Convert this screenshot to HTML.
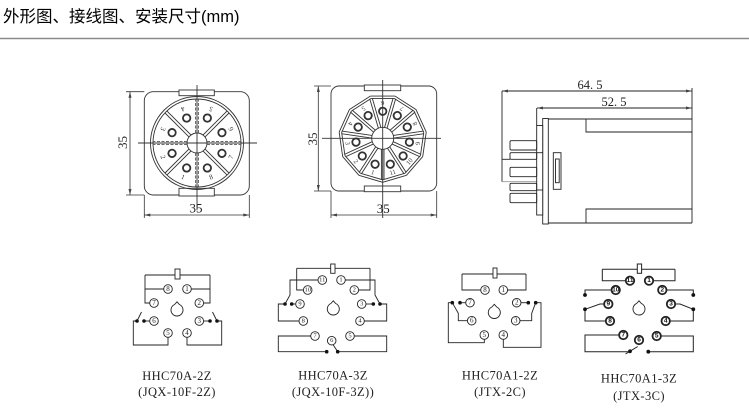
<!DOCTYPE html>
<html><head><meta charset="utf-8"><style>
html,body{margin:0;padding:0;background:#fff;}
svg{display:block;}
</style></head><body>
<svg width="749" height="416" viewBox="0 0 749 416" xmlns="http://www.w3.org/2000/svg" font-family="'Liberation Serif', serif">
<defs>
<marker id="ar" viewBox="0 0 8 4" refX="8" refY="2" markerUnits="userSpaceOnUse" markerWidth="6.5" markerHeight="3" orient="auto-start-reverse"><path d="M0,0L8,2L0,4z" fill="#444"/></marker>
<path id="kh" d="M-2.4,-5.5 L0,-8.2 L2.4,-5.5 A6 6 0 1 1 -2.4,-5.5Z" fill="none" stroke="#222" stroke-width="0.9"/>
</defs>
<rect width="749" height="416" fill="#fff"/>

<!-- header -->
<text x="3" y="22" font-family="'Liberation Sans','Noto Sans CJK SC',sans-serif" font-size="16.5" fill="#000">外形图、接线图、安装尺寸(mm)</text>
<line x1="0" y1="38.5" x2="749" y2="38.5" stroke="#8a8a8a" stroke-width="1.5"/>

<!-- ============ Drawing 1 (8-pin socket) ============ -->
<g stroke="#333" stroke-width="0.9" fill="none">
  <rect x="144.3" y="91.7" width="105" height="103.3" rx="9"/>
  <rect x="179" y="90" width="35.3" height="5.7" fill="#fff"/>
  <rect x="179" y="188.3" width="35.3" height="7.7" fill="#fff"/>
  <circle cx="197" cy="143" r="46.5"/>
  <circle cx="197" cy="143" r="44"/>
  <circle cx="197" cy="143" r="10"/>
  <g transform="translate(197,143)">
    <g transform="rotate(45)"><line x1="-1.4" y1="-10" x2="-1.4" y2="-44"/><line x1="1.4" y1="-10" x2="1.4" y2="-44"/></g>
    <g transform="rotate(135)"><line x1="-1.4" y1="-10" x2="-1.4" y2="-44"/><line x1="1.4" y1="-10" x2="1.4" y2="-44"/></g>
    <g transform="rotate(225)"><line x1="-1.4" y1="-10" x2="-1.4" y2="-44"/><line x1="1.4" y1="-10" x2="1.4" y2="-44"/></g>
    <g transform="rotate(315)"><line x1="-1.4" y1="-10" x2="-1.4" y2="-44"/><line x1="1.4" y1="-10" x2="1.4" y2="-44"/></g>
    <g stroke-dasharray="3 1.5" stroke="#555">
      <g transform="rotate(0)"><line x1="-1.4" y1="-10" x2="-1.4" y2="-44"/><line x1="1.4" y1="-10" x2="1.4" y2="-44"/></g>
      <g transform="rotate(90)"><line x1="-1.4" y1="-10" x2="-1.4" y2="-44"/><line x1="1.4" y1="-10" x2="1.4" y2="-44"/></g>
      <g transform="rotate(180)"><line x1="-1.4" y1="-10" x2="-1.4" y2="-44"/><line x1="1.4" y1="-10" x2="1.4" y2="-44"/></g>
      <g transform="rotate(270)"><line x1="-1.4" y1="-10" x2="-1.4" y2="-44"/><line x1="1.4" y1="-10" x2="1.4" y2="-44"/></g>
    </g>
    <g stroke-width="1.8">
      <circle cx="0" cy="-27" r="3.7" transform="rotate(22.5)"/>
      <circle cx="0" cy="-27" r="3.7" transform="rotate(67.5)"/>
      <circle cx="0" cy="-27" r="3.7" transform="rotate(112.5)"/>
      <circle cx="0" cy="-27" r="3.7" transform="rotate(157.5)"/>
      <circle cx="0" cy="-27" r="3.7" transform="rotate(202.5)"/>
      <circle cx="0" cy="-27" r="3.7" transform="rotate(247.5)"/>
      <circle cx="0" cy="-27" r="3.7" transform="rotate(292.5)"/>
      <circle cx="0" cy="-27" r="3.7" transform="rotate(337.5)"/>
    </g>
    <g fill="#333" stroke="none" font-size="7" text-anchor="middle" dominant-baseline="central">
      <g transform="rotate(22.5)"><text x="0" y="-37" transform="rotate(180 0 -37)">5</text></g>
      <g transform="rotate(67.5)"><text x="0" y="-37" transform="rotate(180 0 -37)">6</text></g>
      <g transform="rotate(112.5)"><text x="0" y="-37" transform="rotate(180 0 -37)">7</text></g>
      <g transform="rotate(157.5)"><text x="0" y="-37" transform="rotate(180 0 -37)">8</text></g>
      <g transform="rotate(202.5)"><text x="0" y="-37" transform="rotate(180 0 -37)">1</text></g>
      <g transform="rotate(247.5)"><text x="0" y="-37" transform="rotate(180 0 -37)">2</text></g>
      <g transform="rotate(292.5)"><text x="0" y="-37" transform="rotate(180 0 -37)">3</text></g>
      <g transform="rotate(337.5)"><text x="0" y="-37" transform="rotate(180 0 -37)">4</text></g>
    </g>
  </g>
  <line x1="197" y1="85" x2="197" y2="210"/>
  <line x1="138" y1="143" x2="257" y2="143"/>
  <!-- dims -->
  <line x1="126" y1="91.7" x2="144.3" y2="91.7" stroke-width="0.8"/>
  <line x1="126" y1="195" x2="144.3" y2="195" stroke-width="0.8"/>
  <line x1="130" y1="91.7" x2="130" y2="195" stroke-width="0.8" marker-start="url(#ar)" marker-end="url(#ar)"/>
  <line x1="144.3" y1="195" x2="144.3" y2="218" stroke-width="0.8"/>
  <line x1="249.3" y1="195" x2="249.3" y2="218" stroke-width="0.8"/>
  <line x1="144.3" y1="215" x2="249.3" y2="215" stroke-width="0.8" marker-start="url(#ar)" marker-end="url(#ar)"/>
</g>
<text x="0" y="0" transform="translate(127,142.5) rotate(-90)" font-size="13" text-anchor="middle" fill="#222">35</text>
<text x="196" y="212.5" font-size="13" text-anchor="middle" fill="#222">35</text>

<!-- ============ Drawing 2 (11-pin socket) ============ -->
<g stroke="#333" stroke-width="0.9" fill="none">
  <rect x="331" y="86" width="105.7" height="105" rx="8"/>
  <rect x="364.3" y="85" width="36.4" height="5.7" fill="#fff"/>
  <rect x="364.3" y="186" width="36.4" height="5.7" fill="#fff"/>
  <circle cx="382.7" cy="138.3" r="11"/>
  <g transform="translate(382.7,138.3)">
    <g transform="rotate(16.36)"><line x1="0" y1="-44" x2="23.79" y2="-37.01"/><line x1="0" y1="-41.5" x2="22.44" y2="-34.91"/><line x1="-1.3" y1="-11" x2="-1.3" y2="-41.5"/><line x1="1.3" y1="-11" x2="1.3" y2="-41.5"/></g>
    <g transform="rotate(49.09)"><line x1="0" y1="-44" x2="23.79" y2="-37.01"/><line x1="0" y1="-41.5" x2="22.44" y2="-34.91"/><line x1="-1.3" y1="-11" x2="-1.3" y2="-41.5"/><line x1="1.3" y1="-11" x2="1.3" y2="-41.5"/></g>
    <g transform="rotate(81.82)"><line x1="0" y1="-44" x2="23.79" y2="-37.01"/><line x1="0" y1="-41.5" x2="22.44" y2="-34.91"/><line x1="-1.3" y1="-11" x2="-1.3" y2="-41.5"/><line x1="1.3" y1="-11" x2="1.3" y2="-41.5"/></g>
    <g transform="rotate(114.55)"><line x1="0" y1="-44" x2="23.79" y2="-37.01"/><line x1="0" y1="-41.5" x2="22.44" y2="-34.91"/><line x1="-1.3" y1="-11" x2="-1.3" y2="-41.5"/><line x1="1.3" y1="-11" x2="1.3" y2="-41.5"/></g>
    <g transform="rotate(147.27)"><line x1="0" y1="-44" x2="23.79" y2="-37.01"/><line x1="0" y1="-41.5" x2="22.44" y2="-34.91"/><line x1="-1.3" y1="-11" x2="-1.3" y2="-41.5"/><line x1="1.3" y1="-11" x2="1.3" y2="-41.5"/></g>
    <g transform="rotate(180)"><line x1="0" y1="-44" x2="23.79" y2="-37.01"/><line x1="0" y1="-41.5" x2="22.44" y2="-34.91"/><line x1="-1.3" y1="-11" x2="-1.3" y2="-41.5"/><line x1="1.3" y1="-11" x2="1.3" y2="-41.5"/></g>
    <g transform="rotate(212.73)"><line x1="0" y1="-44" x2="23.79" y2="-37.01"/><line x1="0" y1="-41.5" x2="22.44" y2="-34.91"/><line x1="-1.3" y1="-11" x2="-1.3" y2="-41.5"/><line x1="1.3" y1="-11" x2="1.3" y2="-41.5"/></g>
    <g transform="rotate(245.45)"><line x1="0" y1="-44" x2="23.79" y2="-37.01"/><line x1="0" y1="-41.5" x2="22.44" y2="-34.91"/><line x1="-1.3" y1="-11" x2="-1.3" y2="-41.5"/><line x1="1.3" y1="-11" x2="1.3" y2="-41.5"/></g>
    <g transform="rotate(278.18)"><line x1="0" y1="-44" x2="23.79" y2="-37.01"/><line x1="0" y1="-41.5" x2="22.44" y2="-34.91"/><line x1="-1.3" y1="-11" x2="-1.3" y2="-41.5"/><line x1="1.3" y1="-11" x2="1.3" y2="-41.5"/></g>
    <g transform="rotate(310.91)"><line x1="0" y1="-44" x2="23.79" y2="-37.01"/><line x1="0" y1="-41.5" x2="22.44" y2="-34.91"/><line x1="-1.3" y1="-11" x2="-1.3" y2="-41.5"/><line x1="1.3" y1="-11" x2="1.3" y2="-41.5"/></g>
    <g transform="rotate(343.64)"><line x1="0" y1="-44" x2="23.79" y2="-37.01"/><line x1="0" y1="-41.5" x2="22.44" y2="-34.91"/><line x1="-1.3" y1="-11" x2="-1.3" y2="-41.5"/><line x1="1.3" y1="-11" x2="1.3" y2="-41.5"/></g>
    <g stroke-width="1.8">
      <circle cx="0" cy="-27" r="3.7" transform="rotate(0)"/>
      <circle cx="0" cy="-27" r="3.7" transform="rotate(32.73)"/>
      <circle cx="0" cy="-27" r="3.7" transform="rotate(65.45)"/>
      <circle cx="0" cy="-27" r="3.7" transform="rotate(98.18)"/>
      <circle cx="0" cy="-27" r="3.7" transform="rotate(130.91)"/>
      <circle cx="0" cy="-27" r="3.7" transform="rotate(163.64)"/>
      <circle cx="0" cy="-27" r="3.7" transform="rotate(196.36)"/>
      <circle cx="0" cy="-27" r="3.7" transform="rotate(229.09)"/>
      <circle cx="0" cy="-27" r="3.7" transform="rotate(261.82)"/>
      <circle cx="0" cy="-27" r="3.7" transform="rotate(294.55)"/>
      <circle cx="0" cy="-27" r="3.7" transform="rotate(327.27)"/>
    </g>
    <g fill="#333" stroke="none" font-size="6.5" text-anchor="middle" dominant-baseline="central">
      <g transform="rotate(0)"><text x="0" y="-36" transform="rotate(180 0 -36)">6</text></g>
      <g transform="rotate(32.73)"><text x="0" y="-36" transform="rotate(180 0 -36)">7</text></g>
      <g transform="rotate(65.45)"><text x="0" y="-36" transform="rotate(180 0 -36)">8</text></g>
      <g transform="rotate(98.18)"><text x="0" y="-36" transform="rotate(180 0 -36)">9</text></g>
      <g transform="rotate(130.91)"><text x="0" y="-36" transform="rotate(180 0 -36)">10</text></g>
      <g transform="rotate(163.64)"><text x="0" y="-36" transform="rotate(180 0 -36)">11</text></g>
      <g transform="rotate(196.36)"><text x="0" y="-36" transform="rotate(180 0 -36)">1</text></g>
      <g transform="rotate(229.09)"><text x="0" y="-36" transform="rotate(180 0 -36)">2</text></g>
      <g transform="rotate(261.82)"><text x="0" y="-36" transform="rotate(180 0 -36)">3</text></g>
      <g transform="rotate(294.55)"><text x="0" y="-36" transform="rotate(180 0 -36)">4</text></g>
      <g transform="rotate(327.27)"><text x="0" y="-36" transform="rotate(180 0 -36)">5</text></g>
    </g>
  </g>
  <line x1="382.7" y1="80" x2="382.7" y2="218"/>
  <line x1="322" y1="138.3" x2="441" y2="138.3"/>
  <!-- dims -->
  <line x1="314" y1="86" x2="331" y2="86" stroke-width="0.8"/>
  <line x1="314" y1="191" x2="331" y2="191" stroke-width="0.8"/>
  <line x1="318.3" y1="86" x2="318.3" y2="191" stroke-width="0.8" marker-start="url(#ar)" marker-end="url(#ar)"/>
  <line x1="331" y1="191" x2="331" y2="218" stroke-width="0.8"/>
  <line x1="436.7" y1="191" x2="436.7" y2="218" stroke-width="0.8"/>
  <line x1="331" y1="215" x2="436.7" y2="215" stroke-width="0.8" marker-start="url(#ar)" marker-end="url(#ar)"/>
</g>
<text x="0" y="0" transform="translate(317,139) rotate(-90)" font-size="13" text-anchor="middle" fill="#222">35</text>
<text x="383.3" y="213" font-size="13" text-anchor="middle" fill="#222">35</text>

<!-- ============ Side view ============ -->
<g stroke="#222" stroke-width="0.9" fill="none">
  <line x1="502" y1="91" x2="692" y2="91" marker-start="url(#ar)" marker-end="url(#ar)"/>
  <line x1="537" y1="108" x2="692" y2="108" marker-start="url(#ar)" marker-end="url(#ar)"/>
  <line x1="692" y1="88" x2="692" y2="223"/>
  <line x1="502" y1="91" x2="502" y2="181.7"/>
  <line x1="502" y1="159.3" x2="510" y2="159.3"/>
  <line x1="502" y1="181.7" x2="536.7" y2="181.7" stroke="#999"/>
  <line x1="536.7" y1="108" x2="536.7" y2="125.5"/>
  <!-- body -->
  <line x1="548.3" y1="119" x2="692" y2="119"/>
  <line x1="548.3" y1="223" x2="692" y2="223"/>
  <path d="M692,132 H586 V119"/>
  <path d="M692,209 H586 V223"/>
  <rect x="542.7" y="118.5" width="5.6" height="105.5" fill="#fff"/>
  <rect x="536.7" y="125.5" width="6" height="89.5" fill="#fff"/>
  <line x1="536.7" y1="152.7" x2="542.7" y2="152.7"/>
  <line x1="536.7" y1="190" x2="542.7" y2="190"/>
  <rect x="553.3" y="152.7" width="7.7" height="36.6"/>
  <rect x="555.5" y="159" width="3.7" height="23.7"/>
  <!-- pins -->
  <rect x="510" y="140.7" width="26.7" height="9.3" rx="1.2"/>
  <rect x="510" y="152.7" width="26.7" height="6.6" rx="1.2"/>
  <rect x="510" y="167.3" width="26.7" height="9.4" rx="1.2"/>
  <rect x="510" y="183.3" width="26.7" height="7.4" rx="1.2"/>
  <rect x="510" y="193.3" width="26.7" height="9.4" rx="1.2"/>
</g>
<text x="590" y="89" font-size="12.5" text-anchor="middle" fill="#222">64. 5</text>
<text x="614" y="106" font-size="12.5" text-anchor="middle" fill="#222">52. 5</text>

<!-- ============ Wiring diagram 1 ============ -->
<g stroke="#222" stroke-width="0.9" fill="none">
  <line x1="145" y1="275" x2="210" y2="275"/>
  <rect x="175" y="269" width="5" height="10" fill="#fff"/>
  <path d="M145,275 V303 H149.7"/>
  <path d="M145,289 H163.7"/>
  <path d="M210,275 V303 H203.6"/>
  <path d="M210,289 H191.3"/>
  <path d="M144,321 H149.7"/>
  <path d="M137,321 L141.5,312"/>
  <path d="M137,321 H133.3 V345 H168 V337.3"/>
  <path d="M203.3,321 H210"/>
  <path d="M217,321 L212.5,312"/>
  <path d="M217,321 H221.7 V345 H187 V337.3"/>
  <g fill="#fff">
    <circle cx="168" cy="289" r="4.3"/><circle cx="187" cy="289" r="4.3"/>
    <circle cx="154" cy="303" r="4.3"/><circle cx="199.3" cy="303" r="4.3"/>
    <circle cx="154" cy="321" r="4.3"/><circle cx="199.3" cy="321" r="4.3"/>
    <circle cx="168" cy="333" r="4.3"/><circle cx="187" cy="333" r="4.3"/>
  </g>
  <use href="#kh" x="177" y="310"/>
</g>
<g fill="#111">
  <circle cx="137" cy="321" r="1.8"/><circle cx="144" cy="321" r="1.8"/>
  <circle cx="210" cy="321" r="1.8"/><circle cx="217" cy="321" r="1.8"/>
</g>
<g font-size="7" text-anchor="middle" dominant-baseline="central" fill="#222">
  <text x="168" y="289">8</text><text x="187" y="289">1</text>
  <text x="154" y="303">7</text><text x="199.3" y="303">2</text>
  <text x="154" y="321">6</text><text x="199.3" y="321">3</text>
  <text x="168" y="333">5</text><text x="187" y="333">4</text>
</g>

<!-- ============ Wiring diagram 2 ============ -->
<g stroke="#222" stroke-width="0.9" fill="none">
  <line x1="296.7" y1="268.3" x2="370" y2="268.3"/>
  <rect x="330.7" y="264" width="4.3" height="9.3" fill="#fff"/>
  <path d="M296.7,268.3 V290 H303.4"/>
  <path d="M370,268.3 V290 H358.6"/>
  <path d="M318,280 H290 V295 L285,304"/>
  <path d="M291.7,304 H295.7"/>
  <path d="M285,304 H278.3 V321 H299"/>
  <path d="M345.3,280 H375 V295 L380,304"/>
  <path d="M366,304 H373.3"/>
  <path d="M380,304 H386.7 V321 H364.3"/>
  <path d="M310.7,336 H278.3 V351.7 H326.7"/>
  <path d="M354.3,336 H386.7 V351.7 H337.7"/>
  <path d="M333.3,345 L337.7,351.7"/>
  <g fill="#fff">
    <circle cx="322.3" cy="280" r="4.3"/><circle cx="341" cy="280" r="4.3"/>
    <circle cx="307.7" cy="290" r="4.3"/><circle cx="354.3" cy="290" r="4.3"/>
    <circle cx="300" cy="304" r="4.3"/><circle cx="361.7" cy="304" r="4.3"/>
    <circle cx="303.3" cy="321" r="4.3"/><circle cx="360" cy="321" r="4.3"/>
    <circle cx="315" cy="336" r="4.3"/><circle cx="331.7" cy="340.7" r="4.3"/><circle cx="350" cy="336" r="4.3"/>
  </g>
  <use href="#kh" x="333.3" y="309"/>
</g>
<g fill="#111">
  <circle cx="285" cy="304" r="1.8"/><circle cx="291.7" cy="304" r="1.8"/>
  <circle cx="373.3" cy="304" r="1.8"/><circle cx="380" cy="304" r="1.8"/>
  <circle cx="326.7" cy="351.7" r="1.8"/><circle cx="337.7" cy="351.7" r="1.8"/>
</g>
<g font-size="6.5" text-anchor="middle" dominant-baseline="central" fill="#222">
  <text x="322.3" y="280">11</text><text x="341" y="280">1</text>
  <text x="307.7" y="290">10</text><text x="354.3" y="290">2</text>
  <text x="300" y="304">9</text><text x="361.7" y="304">3</text>
  <text x="303.3" y="321">8</text><text x="360" y="321">4</text>
  <text x="315" y="336">7</text><text x="331.7" y="340.7">6</text><text x="350" y="336">5</text>
</g>

<!-- ============ Wiring diagram 3 ============ -->
<g stroke="#222" stroke-width="0.9" fill="none">
  <line x1="462" y1="274" x2="526" y2="274"/>
  <rect x="493" y="268" width="4" height="10" fill="#fff"/>
  <path d="M462,274 V290 H480.7"/>
  <path d="M526,274 V290 H507.6"/>
  <path d="M460,302.7 H465.7"/>
  <path d="M452.3,302.7 L458.3,313.3 V320.7 H467.4"/>
  <path d="M452.3,302.7 H448.3 V342.7 H484.3 V339.3"/>
  <path d="M521,302.7 H528.3"/>
  <path d="M535.7,302.7 L531.7,313.3 V320.7 H520"/>
  <path d="M535.7,302.7 H541 V347.3 H503.3 V339.3"/>
  <g fill="#fff">
    <circle cx="485" cy="290" r="4.3"/><circle cx="503.3" cy="290" r="4.3"/>
    <circle cx="470" cy="302.7" r="4.3"/><circle cx="516.7" cy="302.7" r="4.3"/>
    <circle cx="471.7" cy="320.7" r="4.3"/><circle cx="515.7" cy="320.7" r="4.3"/>
    <circle cx="484.3" cy="335" r="4.3"/><circle cx="503.3" cy="335" r="4.3"/>
  </g>
  <use href="#kh" x="494.3" y="312.5"/>
</g>
<g fill="#111">
  <circle cx="452.3" cy="302.7" r="1.8"/><circle cx="460" cy="302.7" r="1.8"/>
  <circle cx="528.3" cy="302.7" r="1.8"/><circle cx="535.7" cy="302.7" r="1.8"/>
</g>
<g font-size="7" text-anchor="middle" dominant-baseline="central" fill="#222">
  <text x="485" y="290">8</text><text x="503.3" y="290">1</text>
  <text x="470" y="302.7">7</text><text x="516.7" y="302.7">2</text>
  <text x="471.7" y="320.7">6</text><text x="515.7" y="320.7">3</text>
  <text x="484.3" y="335">5</text><text x="503.3" y="335">4</text>
</g>

<!-- ============ Wiring diagram 4 ============ -->
<g stroke="#222" stroke-width="1" fill="none">
  <line x1="602.3" y1="269.3" x2="675" y2="269.3"/>
  <rect x="637.3" y="264" width="4.3" height="9.3" fill="#fff"/>
  <path d="M602.3,269.3 V280.7 H625.5"/>
  <path d="M675,269.3 V280.7 H653.5"/>
  <path d="M611.2,290 H585 V295"/>
  <path d="M666.8,290 H693.3 V295"/>
  <path d="M603.8,304 H600 L585,309.3 V321 H605.5"/>
  <path d="M675.5,304 H680 L693.3,309.3 V321 H670.2"/>
  <path d="M618.8,335 H585 V351.7 H628"/>
  <path d="M625.5,354 L637.7,346.5"/>
  <path d="M661.2,336 H693.3 V351.7 H648.3"/>
  <g fill="#fff" stroke-width="1.8">
    <circle cx="630" cy="280.7" r="4.2"/><circle cx="649" cy="280.7" r="4.2"/>
    <circle cx="615.7" cy="290" r="4.2"/><circle cx="662.3" cy="290" r="4.2"/>
    <circle cx="608.3" cy="304" r="4.2"/><circle cx="671" cy="304" r="4.2"/>
    <circle cx="610" cy="321" r="4.2"/><circle cx="665.7" cy="321" r="4.2"/>
    <circle cx="623.3" cy="335" r="4.2"/><circle cx="639" cy="340" r="4.2"/><circle cx="656.7" cy="336" r="4.2"/>
  </g>
  <use href="#kh" x="639" y="309"/>
</g>
<g fill="#111">
  <circle cx="585" cy="295" r="1.9"/><circle cx="693.3" cy="295" r="1.9"/>
  <circle cx="585" cy="309.3" r="1.9"/><circle cx="693.3" cy="309.3" r="1.9"/>
  <circle cx="630" cy="351.3" r="1.9"/><circle cx="648.3" cy="351.7" r="1.9"/>
</g>
<g font-family="'Liberation Sans', sans-serif" font-weight="bold" font-size="6.5" text-anchor="middle" dominant-baseline="central" fill="#111">
  <text x="630" y="280.7">11</text><text x="649" y="280.7">1</text>
  <text x="615.7" y="290">10</text><text x="662.3" y="290">2</text>
  <text x="608.3" y="304">9</text><text x="671" y="304">3</text>
  <text x="610" y="321">8</text><text x="665.7" y="321">4</text>
  <text x="623.3" y="335">7</text><text x="639" y="340">6</text><text x="656.7" y="336">5</text>
</g>

<!-- captions -->
<g font-size="12.5" text-anchor="middle" fill="#222" letter-spacing="0.4">
  <text x="177" y="380">HHC70A-2Z</text>
  <text x="177" y="396">(JQX-10F-2Z)</text>
  <text x="333" y="379.5">HHC70A-3Z</text>
  <text x="333" y="396">(JQX-10F-3Z))</text>
  <text x="500" y="379.5">HHC70A1-2Z</text>
  <text x="500" y="396">(JTX-2C)</text>
  <text x="639" y="382.5">HHC70A1-3Z</text>
  <text x="639" y="400">(JTX-3C)</text>
</g>
</svg>
</body></html>
